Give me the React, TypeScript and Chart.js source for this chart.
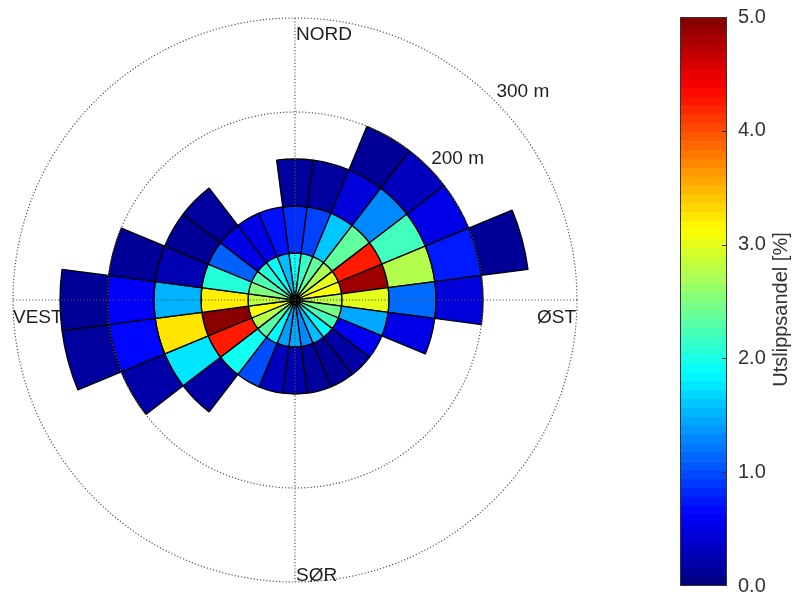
import React, { useEffect, useRef } from 'react';
import { Chart, registerables } from 'chart.js';

Chart.register(...registerables);

// ---------------- data ----------------
const directionsDeg = [0, 15, 30, 45, 60, 75, 90, 105, 120, 135, 150, 165, 180, 195, 210, 225, 240, 255, 270, 285, 300, 315, 330, 345];
const sectorWidthDeg = 15;
const ringEdgesM = [0, 50, 100, 150, 200, 250];
const gridRingsM = [200, 300];
const gridRingLabels = ['200 m', '300 m'];
const axisMaxM = 300;

// emission share [%] per direction, one array per distance band (null = no emission)
const share0to50 = [1.9, 2.15, 2.35, 2.7, 3.0, 3.1, 2.8, 2.45, 2.2, 1.85, 1.55, 1.3, 1.45, 1.4, 1.85, 2.3, 2.75, 3.1, 2.8, 2.5, 2.25, 2.05, 1.9, 1.55];
const share50to100 = [0.85, 0.95, 1.6, 2.35, 4.25, 4.85, 3.0, 1.45, 0.55, 0.18, 0.12, 0.15, 0.22, 0.3, 1.0, 1.95, 4.25, 4.95, 3.2, 2.05, 1.1, 0.5, 0.5, 0.7];
const share100to150 = [0.15, 0.15, 0.45, 1.3, 2.2, 2.75, 1.15, 0.5, null, null, null, null, null, null, null, 0.18, 1.75, 3.25, 1.5, 0.25, 0.12, 0.15, null, null];
const share150to200 = [null, null, 0.12, 0.3, 0.5, 0.75, 0.45, null, null, null, null, null, null, null, null, null, 0.2, 0.65, 0.6, 0.12, null, null, null, null];
const share200to250 = [null, null, null, null, null, 0.12, null, null, null, null, null, null, null, null, null, null, null, 0.15, 0.12, null, null, null, null, null];

const compassLabels = { north: 'NORD', east: 'ØST', south: 'SØR', west: 'VEST' };

const colorMin = 0;
const colorMax = 5;
const colorTickStep = 1;
const colorLevels = 64;
const colorbarTitle = 'Utslippsandel [%]';

// ---------------- styling ----------------
const FONT = '"Liberation Sans", Arial, Helvetica, sans-serif';
const TEXT_COLOR = '#1e1e1e';

function jet(t: number): string {
  const c = (x: number) => Math.max(0, Math.min(1, x));
  const r = c(1.5 - Math.abs(4 * t - 3));
  const g = c(1.5 - Math.abs(4 * t - 2));
  const b = c(1.5 - Math.abs(4 * t - 1));
  return `rgb(${Math.round(r * 255)},${Math.round(g * 255)},${Math.round(b * 255)})`;
}

const toUnit = (v: number) => (v - colorMin) / (colorMax - colorMin);

const polarGridPlugin = {
  id: 'polarGrid',
  afterDatasetsDraw(chart: any) {
    const meta = chart.getDatasetMeta(0);
    const arc = meta.data[0];
    if (!arc) return;
    const { x: cx, y: cy, outerRadius } = arc.getProps(['x', 'y', 'outerRadius'], true);
    const pxPerM = outerRadius / ringEdgesM[ringEdgesM.length - 1];
    const rMax = axisMaxM * pxPerM;
    const ctx = chart.ctx;
    ctx.save();
    ctx.strokeStyle = '#555';
    ctx.lineWidth = 1.2;
    ctx.setLineDash([1.2, 2]);
    gridRingsM.forEach((m) => {
      ctx.beginPath();
      ctx.arc(cx, cy, m * pxPerM, 0, Math.PI * 2);
      ctx.stroke();
    });
    ctx.beginPath();
    ctx.moveTo(cx, cy - rMax);
    ctx.lineTo(cx, cy + rMax);
    ctx.moveTo(cx - rMax, cy);
    ctx.lineTo(cx + rMax, cy);
    ctx.stroke();
    ctx.setLineDash([]);

    ctx.fillStyle = TEXT_COLOR;
    ctx.font = `19px ${FONT}`;
    ctx.textBaseline = 'alphabetic';
    ctx.textAlign = 'left';
    ctx.fillText(compassLabels.north, cx + 1, cy - rMax + 22);
    ctx.fillText(compassLabels.south, cx + 1, cy + rMax - 1);
    ctx.fillText(compassLabels.west, cx - rMax, cy + 23);
    ctx.textAlign = 'right';
    ctx.fillText(compassLabels.east, cx + rMax - 1, cy + 23);

    ctx.textAlign = 'left';
    ctx.textBaseline = 'middle';
    const labelBearing = (44 * Math.PI) / 180;
    gridRingsM.forEach((m, i) => {
      const d = m * pxPerM + 8;
      ctx.fillText(gridRingLabels[i], cx + d * Math.sin(labelBearing), cy - d * Math.cos(labelBearing));
    });
    ctx.restore();
  },
};

const colorbarPlugin = {
  id: 'colorbarFrame',
  afterDatasetsDraw(chart: any) {
    const { ctx, chartArea } = chart;
    const y = chart.scales.y;
    ctx.save();
    ctx.strokeStyle = '#333';
    ctx.lineWidth = 1;
    ctx.strokeRect(chartArea.left + 0.5, chartArea.top + 0.5, chartArea.right - chartArea.left - 1, chartArea.bottom - chartArea.top - 1);
    for (let v = colorMin + colorTickStep; v < colorMax; v += colorTickStep) {
      const py = Math.round(y.getPixelForValue(v)) + 0.5;
      ctx.beginPath();
      ctx.moveTo(chartArea.right - 5, py);
      ctx.lineTo(chartArea.right, py);
      ctx.stroke();
    }
    ctx.fillStyle = '#333';
    ctx.font = `20px ${FONT}`;
    ctx.textAlign = 'center';
    ctx.textBaseline = 'middle';
    ctx.translate(chart.width - 12, (chartArea.top + chartArea.bottom) / 2 + 8);
    ctx.rotate(-Math.PI / 2);
    ctx.fillText(colorbarTitle, 0, 0);
    ctx.restore();
  },
};

function PolarChart() {
  const ref = useRef<HTMLCanvasElement>(null);
  useEffect(() => {
    if (!ref.current) return;
    const rings = [share200to250, share150to200, share100to150, share50to100, share0to50];
    const chart = new Chart(ref.current, {
      type: 'doughnut',
      data: {
        labels: directionsDeg.map((d) => `${d}°`),
        datasets: rings.map((vals) => ({
          data: directionsDeg.map(() => sectorWidthDeg),
          backgroundColor: vals.map((v) => (v == null ? 'rgba(0,0,0,0)' : jet(toUnit(v)))),
          borderColor: '#000',
          borderWidth: vals.map((v) => (v == null ? 0 : 1.3)),
          hoverOffset: 0,
        })),
      },
      options: {
        animation: false,
        responsive: false,
        events: [],
        cutout: 0,
        radius: 235,
        rotation: -sectorWidthDeg / 2,
        layout: { padding: { left: 13, top: 18, right: 23, bottom: 14 } },
        plugins: { legend: { display: false }, tooltip: { enabled: false } },
      } as any,
      plugins: [polarGridPlugin],
    });
    return () => chart.destroy();
  }, []);
  return <canvas ref={ref} width={600} height={596} style={{ position: 'absolute', left: 0, top: 0 }} />;
}

function Colorbar() {
  const ref = useRef<HTMLCanvasElement>(null);
  useEffect(() => {
    if (!ref.current) return;
    const step = (colorMax - colorMin) / colorLevels;
    const chart = new Chart(ref.current, {
      type: 'bar',
      data: {
        labels: [''],
        datasets: Array.from({ length: colorLevels }, (_, i) => ({
          data: [[colorMin + i * step, colorMin + (i + 1) * step]] as any,
          backgroundColor: jet((i + 0.5) / colorLevels),
          borderWidth: 0,
          barPercentage: 1,
          categoryPercentage: 1,
          grouped: false,
        })),
      },
      options: {
        animation: false,
        responsive: false,
        events: [],
        layout: { padding: { left: 80, top: 17, right: 0, bottom: 0 } },
        plugins: { legend: { display: false }, tooltip: { enabled: false } },
        scales: {
          x: { display: false },
          y: {
            position: 'right',
            min: colorMin,
            max: colorMax,
            grid: { display: false },
            border: { display: false },
            ticks: {
              stepSize: colorTickStep,
              padding: 3,
              color: '#333',
              font: { family: FONT, size: 20 },
              callback: (v: any) => Number(v).toFixed(1),
            },
            afterFit: (s: any) => {
              s.width = 66;
            },
          },
        },
      } as any,
      plugins: [colorbarPlugin],
    });
    return () => chart.destroy();
  }, []);
  return <canvas ref={ref} width={193} height={601} style={{ position: 'absolute', left: 600, top: 0 }} />;
}

export default function App() {
  return (
    <div style={{ position: 'absolute', left: 0, top: 0, width: 793, height: 596, background: '#fff', overflow: 'hidden' }}>
      <PolarChart />
      <Colorbar />
    </div>
  );
}
